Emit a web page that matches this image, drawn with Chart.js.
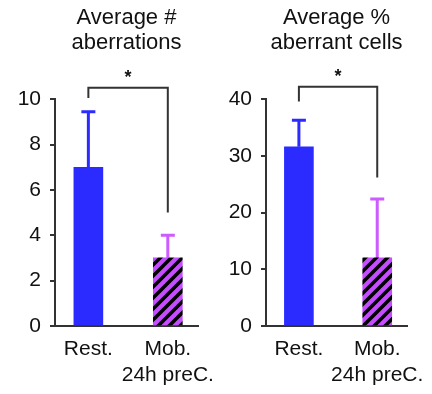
<!DOCTYPE html>
<html>
<head>
<meta charset="utf-8">
<script src="https://cdn.jsdelivr.net/npm/chart.js@4.4.1/dist/chart.umd.min.js"></script>
<style>
  body { margin: 0; background: #fff; }
  .panel { position: absolute; top: 0; width: 216px; height: 394px; }
  #left { left: 0; }
  #right { left: 216px; }
</style>
</head>
<body>
<div class="panel" id="left"><canvas id="chart-a" width="216" height="394"></canvas></div>
<div class="panel" id="right"><canvas id="chart-b" width="216" height="394"></canvas></div>
<script>
// Groups (x axis)
const groups = ["Rest.", ["Mob.", "24h preC."]];
const groupPos = [0, 1];

// Panel A: average # aberrations
const titleA = ["Average #", "aberrations"];
const meanA = [7.0, 3.0];
const errTopA = [9.45, 4.0];
const yMaxA = 10;
const yStepA = 2;
const bracketA = [10.05, 10.5, 5.0]; // left end, top, right end

// Panel B: average % aberrant cells
const titleB = ["Average %", "aberrant cells"];
const meanB = [31.6, 12.0];
const errTopB = [36.3, 22.4];
const yMaxB = 40;
const yStepB = 10;
const bracketB = [39.6, 42.2, 26.2];

const FONT = "'Liberation Sans', Arial, sans-serif";
const INK = "#111";
const AXIS = "#333";
const BLUE = "#2b2bff";
const PURPLE = "#c64cff";

function hatch(color) {
  const s = 11;
  const c = document.createElement("canvas");
  c.width = s;
  c.height = s;
  const g = c.getContext("2d");
  g.fillStyle = color;
  g.fillRect(0, 0, s, s);
  g.strokeStyle = "#000";
  g.lineWidth = 3.5;
  g.beginPath();
  [0, s, 2 * s].forEach((k) => {
    g.moveTo(-1, k + 1);
    g.lineTo(s + 1, k - s - 1);
  });
  g.stroke();
  return g.createPattern(c, "repeat");
}

const errorBars = {
  id: "errorBars",
  beforeDatasetsDraw(chart, args, opts) {
    const { ctx, scales: { y } } = chart;
    const meta = chart.getDatasetMeta(0);
    ctx.save();
    ctx.lineWidth = 3;
    meta.data.forEach((bar, i) => {
      const top = y.getPixelForValue(opts.tops[i]);
      ctx.strokeStyle = opts.colors[i];
      ctx.beginPath();
      ctx.moveTo(bar.x, bar.y);
      ctx.lineTo(bar.x, top);
      ctx.moveTo(bar.x - 7, top);
      ctx.lineTo(bar.x + 7, top);
      ctx.stroke();
    });
    ctx.restore();
  },
};

const bracket = {
  id: "bracket",
  afterDraw(chart, args, opts) {
    const { ctx, scales: { x, y } } = chart;
    const x0 = x.getPixelForValue(groupPos[0]);
    const x1 = x.getPixelForValue(groupPos[1]);
    const [leftEnd, top, rightEnd] = opts.levels;
    const yTop = y.getPixelForValue(top);
    ctx.save();
    ctx.strokeStyle = AXIS;
    ctx.lineWidth = 2;
    ctx.beginPath();
    ctx.moveTo(x0, y.getPixelForValue(leftEnd));
    ctx.lineTo(x0, yTop);
    ctx.lineTo(x1, yTop);
    ctx.lineTo(x1, y.getPixelForValue(rightEnd));
    ctx.stroke();
    ctx.fillStyle = INK;
    ctx.font = "bold 18px " + FONT;
    ctx.textAlign = "center";
    ctx.textBaseline = "alphabetic";
    ctx.fillText("*", (x0 + x1) / 2, yTop - 5);
    ctx.restore();
  },
};

function makeChart(id, title, mean, errTop, yMax, yStep, levels, leftW, rightPad) {
  return new Chart(document.getElementById(id), {
    type: "bar",
    data: {
      datasets: [
        {
          data: groupPos.map((p, i) => ({ x: p, y: mean[i] })),
          backgroundColor: [BLUE, hatch(PURPLE)],
          borderWidth: 0,
          barThickness: 29,
        },
      ],
    },
    options: {
      responsive: false,
      animation: false,
      layout: { padding: { left: 0, right: rightPad, top: 0, bottom: 0 } },
      plugins: {
        legend: { display: false },
        tooltip: { enabled: false },
        title: {
          display: true,
          text: title,
          fullSize: false,
          color: INK,
          font: { family: FONT, size: 22, weight: "normal", lineHeight: 1.14 },
          padding: { top: 5, bottom: 44 },
        },
        errorBars: { tops: errTop, colors: [BLUE, "#cc5cff"] },
        bracket: { levels: levels },
      },
      scales: {
        x: {
          type: "linear",
          min: -0.42,
          max: 1.38,
          offset: false,
          afterBuildTicks: (s) => {
            s.ticks = groupPos.map((v) => ({ value: v }));
          },
          afterFit: (s) => {
            s.height = 68;
            s.paddingLeft = 0;
            s.paddingRight = 0;
          },
          ticks: {
            color: INK,
            padding: 10,
            maxRotation: 0,
            autoSkip: false,
            font: { family: FONT, size: 21, lineHeight: 1.25 },
            callback: (v, i) => groups[i],
          },
          grid: { display: true, offset: false, drawOnChartArea: false, drawTicks: false },
          border: { display: true, color: AXIS, width: 2 },
        },
        y: {
          min: 0,
          max: yMax,
          afterFit: (s) => {
            s.width = leftW;
          },
          ticks: {
            stepSize: yStep,
            color: INK,
            padding: 9,
            font: { family: FONT, size: 21 },
          },
          grid: { drawOnChartArea: false, tickLength: 5, color: AXIS, lineWidth: 2 },
          border: { display: true, color: AXIS, width: 2 },
        },
      },
    },
    plugins: [errorBars, bracket],
  });
}

makeChart("chart-a", titleA, meanA, errTopA, yMaxA, yStepA, bracketA, 55, 18);
makeChart("chart-b", titleB, meanB, errTopB, yMaxB, yStepB, bracketB, 50, 25);
</script>
</body>
</html>
